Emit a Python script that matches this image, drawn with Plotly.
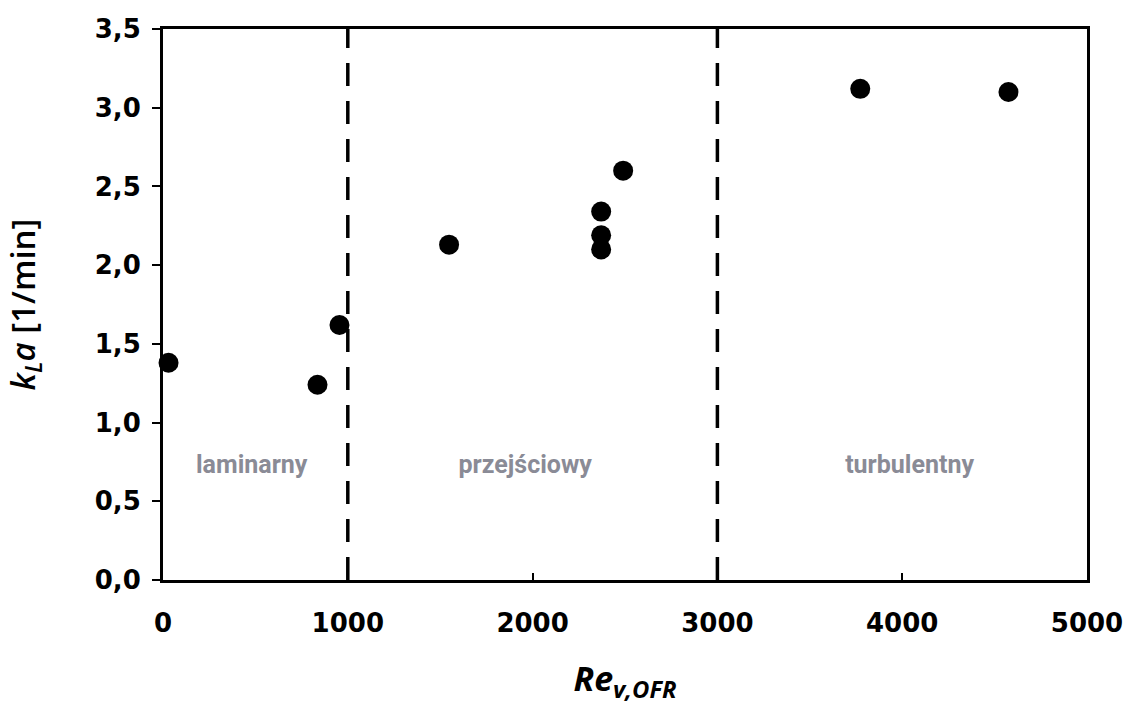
import plotly.graph_objects as go

# Data
re_values = [30, 836, 955, 1548, 2371, 2371, 2371, 2490, 3773, 4575]
kla_values = [1.38, 1.24, 1.62, 2.13, 2.34, 2.19, 2.10, 2.60, 3.12, 3.10]

boundaries = [1000, 3000]
region_labels = ["laminarny", "przejściowy", "turbulentny"]
region_x = [480, 1960, 4040]
region_y = [0.72, 0.72, 0.72]

x_ticks = [0, 1000, 2000, 3000, 4000, 5000]
x_ticktext = ["0", "1000", "2000", "3000", "4000", "5000"]
y_ticks = [0, 0.5, 1.0, 1.5, 2.0, 2.5, 3.0, 3.5]
y_ticktext = ["0,0", "0,5", "1,0", "1,5", "2,0", "2,5", "3,0", "3,5"]

fig = go.Figure()

for b in boundaries:
    fig.add_trace(go.Scatter(
        x=[b, b], y=[0, 3.5], mode="lines",
        line=dict(color="black", width=3.5, dash="23px,15px"),
        hoverinfo="skip", showlegend=False, cliponaxis=False,
    ))

fig.add_trace(go.Scatter(
    x=re_values, y=kla_values, mode="markers",
    marker=dict(color="black", size=20),
    showlegend=False, cliponaxis=False,
))

fig.add_trace(go.Scatter(
    x=region_x, y=region_y, mode="text", text=region_labels,
    textfont=dict(family="Roboto, Liberation Sans, sans-serif",
                  size=25, color="#8a8b96", weight="bold"),
    textposition="middle center", showlegend=False, hoverinfo="skip",
))

tickfont = dict(family="DejaVu Sans, sans-serif", size=26, color="black", weight="bold")

fig.update_layout(
    width=1124, height=709,
    margin=dict(l=163, r=37, t=29, b=129),
    paper_bgcolor="white", plot_bgcolor="white",
    xaxis=dict(
        range=[0, 5000], tickvals=x_ticks, ticktext=x_ticktext,
        showgrid=False, zeroline=False, automargin=False,
        showline=True, linecolor="black", linewidth=3, mirror=True,
        ticks="inside", ticklen=7, tickwidth=2, tickcolor="black",
        tickfont=tickfont, ticklabelstandoff=18,
        title=dict(text="<b><i>Re<sub>v,OFR</sub></i></b>",
                   font=dict(family="Open Sans, Noto Sans, sans-serif", size=34, color="black"),
                   standoff=30),
    ),
    yaxis=dict(
        range=[0, 3.5], tickvals=y_ticks, ticktext=y_ticktext,
        showgrid=False, zeroline=False, automargin=False,
        showline=True, linecolor="black", linewidth=3, mirror=True,
        ticks="outside", ticklen=8, tickwidth=2, tickcolor="black",
        tickfont=tickfont, ticklabelstandoff=6,
        title=dict(text="<i>k<sub>L</sub>a</i> [1/min]",
                   font=dict(family="Open Sans, Noto Sans, sans-serif", size=33, color="black",
                             weight=600),
                   standoff=52),
    ),
)

fig.write_html("out.html")
